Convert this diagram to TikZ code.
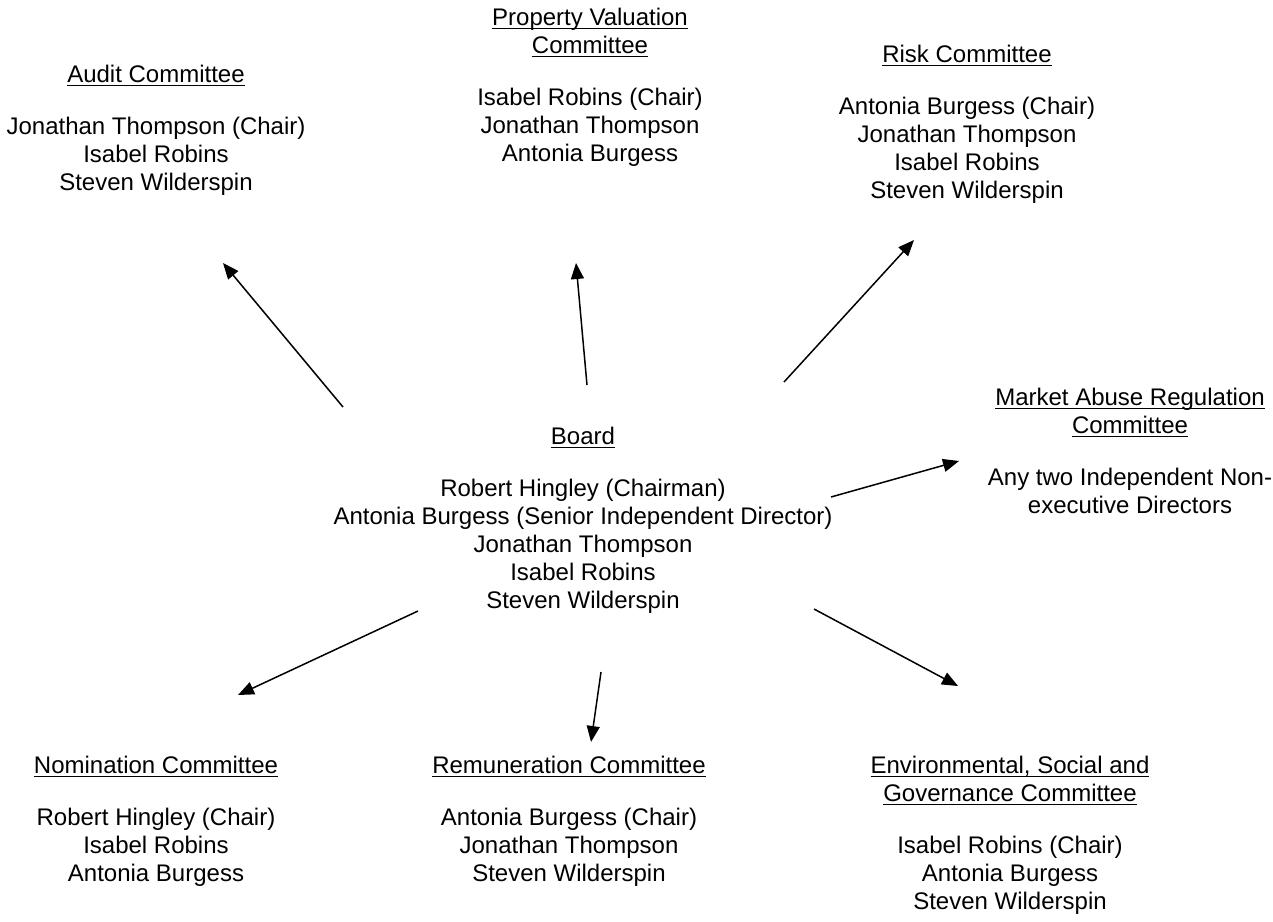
\documentclass[tikz,border=0pt]{standalone}
\usepackage{fontspec}
\setmainfont{Liberation Sans}
\usetikzlibrary{arrows.meta}

\newsavebox\ttlbox
\newcommand{\ttl}[1]{\sbox\ttlbox{#1}\rlap{\rule[-2pt]{\wd\ttlbox}{0.8pt}}\usebox\ttlbox}

\begin{document}
\begin{tikzpicture}[x=0.5pt, y=-0.5pt,
  txt/.style={anchor=north, inner sep=0pt, align=center, font=\fontsize{12}{14}\selectfont},
  arr/.style={line width=0.75pt, -{Triangle[length=8pt, width=6.5pt]}}]
  \useasboundingbox (0,0) rectangle (1273,921);

  \node[txt] (board) at (583, 426.5) {\ttl{Board}\\[12pt]Robert Hingley (Chairman)\\Antonia Burgess (Senior Independent Director)\\Jonathan Thompson\\Isabel Robins\\Steven Wilderspin};

  \node[txt] (audit) at (156, 64.5) {\ttl{Audit Committee}\\[12pt]Jonathan Thompson (Chair)\\Isabel Robins\\Steven Wilderspin};
  \node[txt] (property) at (590, 7.5) {\ttl{Property Valuation}\\\ttl{Committee}\\[12pt]Isabel Robins (Chair)\\Jonathan Thompson\\Antonia Burgess};
  \node[txt] (risk) at (967, 44.5) {\ttl{Risk Committee}\\[12pt]Antonia Burgess (Chair)\\Jonathan Thompson\\Isabel Robins\\Steven Wilderspin};
  \node[txt] (mar) at (1130, 387.5) {\ttl{Market Abuse Regulation}\\\ttl{Committee}\\[12pt]Any two Independent Non-\\executive Directors};
  \node[txt] (nomination) at (156, 755.5) {\ttl{Nomination Committee}\\[12pt]Robert Hingley (Chair)\\Isabel Robins\\Antonia Burgess};
  \node[txt] (remuneration) at (569, 755.5) {\ttl{Remuneration Committee}\\[12pt]Antonia Burgess (Chair)\\Jonathan Thompson\\Steven Wilderspin};
  \node[txt] (esg) at (1010, 755.5) {\ttl{Environmental, Social and}\\\ttl{Governance Committee}\\[12pt]Isabel Robins (Chair)\\Antonia Burgess\\Steven Wilderspin};

  \coordinate (audit-s) at (343, 407);
  \coordinate (audit-e) at (223, 263);
  \coordinate (property-s) at (587, 385);
  \coordinate (property-e) at (576, 263);
  \coordinate (risk-s) at (784, 382);
  \coordinate (risk-e) at (914, 240);
  \coordinate (mar-s) at (831, 497);
  \coordinate (mar-e) at (959, 461);
  \coordinate (esg-s) at (814, 609);
  \coordinate (esg-e) at (958, 686);
  \coordinate (remuneration-s) at (601, 672);
  \coordinate (remuneration-e) at (591, 742);
  \coordinate (nomination-s) at (418, 611);
  \coordinate (nomination-e) at (238, 695);

  \draw[arr] (audit-s) -- (audit-e);
  \draw[arr] (property-s) -- (property-e);
  \draw[arr] (risk-s) -- (risk-e);
  \draw[arr] (mar-s) -- (mar-e);
  \draw[arr] (esg-s) -- (esg-e);
  \draw[arr] (remuneration-s) -- (remuneration-e);
  \draw[arr] (nomination-s) -- (nomination-e);
\end{tikzpicture}
\end{document}
